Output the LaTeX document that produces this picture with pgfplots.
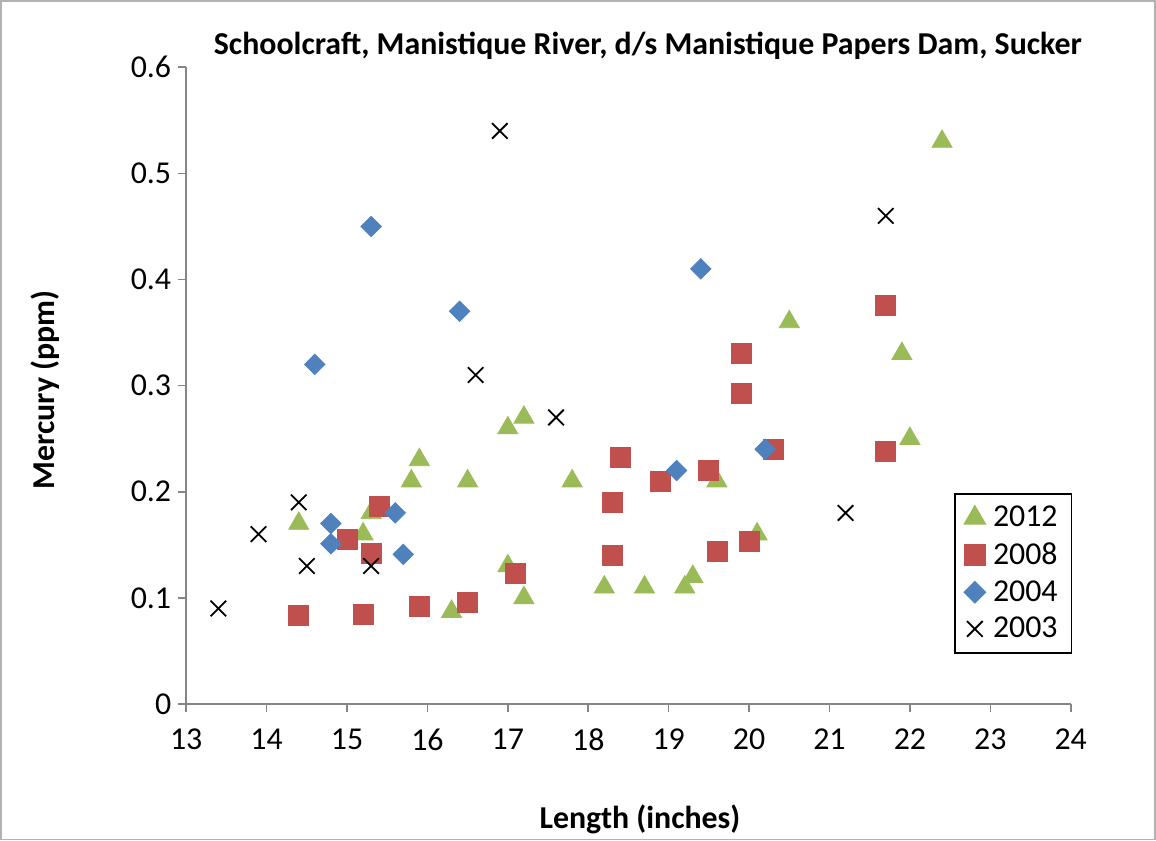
\documentclass[border=0pt]{standalone}
\usepackage{pgfplots}
\pgfplotsset{compat=1.18}
\usepackage{fontspec}
\setmainfont{Carlito}

\definecolor{c2012}{HTML}{9BBB59}
\definecolor{c2008}{HTML}{C0504D}
\definecolor{c2004}{HTML}{4F81BD}
\definecolor{axgray}{HTML}{868686}

\begin{document}
\begin{tikzpicture}
\begin{axis}[
  scale only axis,
  width=442.5bp, height=318.5bp,
  xmin=13, xmax=24, ymin=0, ymax=0.6,
  xtick={13,14,15,16,17,18,19,20,21,22,23,24},
  ytick={0,0.1,0.2,0.3,0.4,0.5,0.6},
  axis x line*=bottom, axis y line*=left,
  axis line style={draw=axgray, line width=0.8bp, -},
  tick style={draw=axgray, line width=0.8bp},
  tick align=outside, major tick length=4bp,
  ticklabel style={font=\fontsize{16}{19}\selectfont},
  xticklabel style={yshift=-5bp},
  /pgf/number format/assume math mode=true,
  yticklabel style={/pgf/number format/fixed, /pgf/number format/precision=1},
  clip=false,
  legend cell align=left,
  legend style={at={(rel axis cs:1.002,0.331)}, anchor=north east,
    draw=black, line width=0.9bp, font=\fontsize{16}{19}\selectfont,
    inner xsep=5bp, inner ysep=4bp, row sep=2.5bp,
    /tikz/every odd column/.append style={column sep=2bp}},
]
% 2012
\addplot[only marks, mark=triangle*, mark size=5.8bp, color=c2012, mark options={draw=none, fill=c2012}] coordinates {
  (14.4,0.17) (15.2,0.16) (15.3,0.18) (15.8,0.21) (15.9,0.23) (16.3,0.087)
  (16.5,0.21) (17.0,0.26) (17.2,0.27) (17.0,0.13) (17.2,0.10) (17.8,0.21)
  (18.2,0.11) (18.7,0.11) (19.2,0.11) (19.3,0.12) (19.6,0.21) (20.1,0.16)
  (22.0,0.25) (21.9,0.33) (20.5,0.36) (22.4,0.53)
};
\addlegendentry{2012}
% 2008
\addplot[only marks, mark=square*, mark size=5bp, color=c2008, mark options={draw=none, fill=c2008}] coordinates {
  (14.4,0.083) (15.0,0.155) (15.3,0.142) (15.4,0.186) (15.2,0.084) (15.9,0.092)
  (16.5,0.096) (17.1,0.123) (18.3,0.19) (18.3,0.14) (18.4,0.232) (18.9,0.21)
  (19.5,0.22) (19.6,0.144) (19.9,0.33) (19.9,0.293) (20.0,0.153) (20.3,0.24)
  (21.7,0.376) (21.7,0.238)
};
\addlegendentry{2008}
% 2004
\addplot[only marks, mark=square*, mark size=3.6bp, color=c2004, mark options={draw=none, fill=c2004, rotate=45}] coordinates {
  (14.6,0.32) (15.3,0.45) (16.4,0.37) (14.8,0.17) (14.8,0.151) (15.6,0.18)
  (15.7,0.141) (19.1,0.22) (19.4,0.41) (20.2,0.24)
};
\addlegendentry{2004}
% 2003
\addplot[only marks, mark=x, mark size=5.5bp, color=black, mark options={line width=0.9bp}] coordinates {
  (13.4,0.09) (13.9,0.16) (14.4,0.19) (14.5,0.13) (15.3,0.13) (16.6,0.31)
  (16.9,0.54) (17.6,0.27) (21.2,0.18) (21.7,0.46)
};
\addlegendentry{2003}

\node[font=\fontsize{16}{19}\selectfont\bfseries] at (rel axis cs:0.522,1.0345) {Schoolcraft, Manistique River, d/s Manistique Papers Dam, Sucker};
\node[font=\fontsize{16}{19}\selectfont\bfseries] at (rel axis cs:0.513,-0.182) {Length (inches)};
\node[font=\fontsize{16}{19}\selectfont\bfseries, rotate=90] at (rel axis cs:-0.159,0.493) {Mercury (ppm)};
\draw[gray!60, line width=0.8bp] (rel axis cs:-0.2096,-0.2127) rectangle (rel axis cs:1.0955,1.1044);
\end{axis}
\end{tikzpicture}
\end{document}
